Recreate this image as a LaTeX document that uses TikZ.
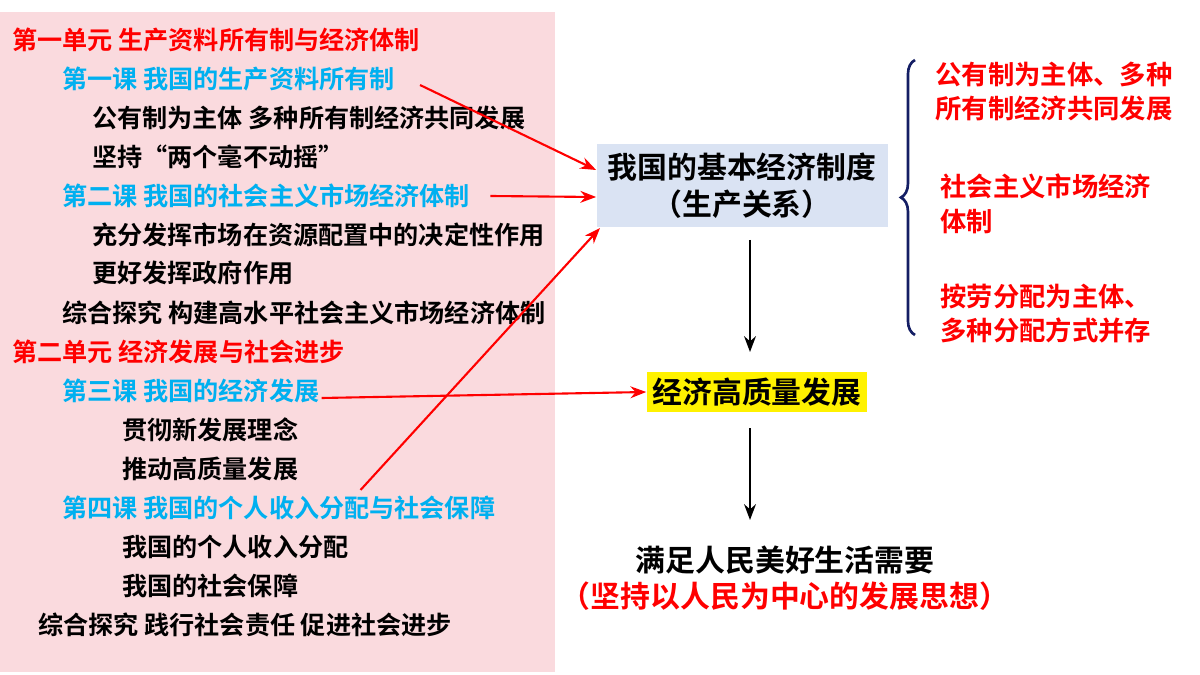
\documentclass[tikz,border=0pt]{standalone}
\usepackage{fontspec}
\setmainfont{Noto Sans CJK SC Bold}
\usetikzlibrary{arrows.meta,decorations.pathreplacing}
\definecolor{pinkbg}{RGB}{250,218,222}
\definecolor{boxblue}{RGB}{218,227,243}
\definecolor{lesson}{RGB}{0,176,240}
\definecolor{unitred}{RGB}{255,0,0}
\definecolor{navy}{RGB}{20,30,100}
\tikzset{
	item/.style={anchor=west, inner sep=0pt, font=\fontsize{14.3}{16}\selectfont},
	unit/.style={item, text=unitred},
	lesson/.style={item, text=lesson},
	side/.style={anchor=west, inner sep=0pt, text=unitred, font=\fontsize{15}{17}\selectfont},
	redarrow/.style={draw=red, line width=1.2pt, -{Stealth[length=9pt]}},
	blackarrow/.style={draw=black, line width=1.2pt, -{Stealth[length=9pt]}}
}
\begin{document}
\begin{tikzpicture}[x=0.02cm, y=-0.02cm]
	\useasboundingbox (0,0) rectangle (1200,675);
	\fill[pinkbg] (0,12) rectangle (555,672);
	% left column
	\node[unit] (u1) at (12,40) {第一单元 生产资料所有制与经济体制};
	\node[lesson] (l1) at (62,79) {第一课 我国的生产资料所有制};
	\node[item] (a1) at (92,118) {公有制为主体 多种所有制经济共同发展};
	\node[item] (a2) at (92,157) {坚持“两个毫不动摇”};
	\node[lesson] (l2) at (62,196) {第二课 我国的社会主义市场经济体制};
	\node[item] (b1) at (92,235) {充分发挥市场在资源配置中的决定性作用};
	\node[item] (b2) at (92,273) {更好发挥政府作用};
	\node[item] (t1) at (62,313) {综合探究 构建高水平社会主义市场经济体制};
	\node[unit] (u2) at (12,352) {第二单元 经济发展与社会进步};
	\node[lesson] (l3) at (62,391) {第三课 我国的经济发展};
	\node[item] (c1) at (122,430) {贯彻新发展理念};
	\node[item] (c2) at (122,469) {推动高质量发展};
	\node[lesson] (l4) at (62,508) {第四课 我国的个人收入分配与社会保障};
	\node[item] (d1) at (122,547) {我国的个人收入分配};
	\node[item] (d2) at (122,586) {我国的社会保障};
	\node[item] (t2) at (38,625) {综合探究 践行社会责任 促进社会进步};
	% right column
	\node[fill=boxblue, minimum width=291*0.02cm, minimum height=83*0.02cm, align=center,
		font=\fontsize{17}{21}\selectfont] (sys) at (742,186) {我国的基本经济制度\\（生产关系）};
	\node[fill=yellow, minimum width=211*0.02cm, minimum height=40*0.02cm,
		font=\fontsize{17}{19}\selectfont] (dev) at (757,392) {经济高质量发展};
	\node[font=\fontsize{17}{19}\selectfont] (need) at (785,560) {满足人民美好生活需要};
	\node[text=unitred, font=\fontsize{17}{19}\selectfont] (core) at (785,596) {（坚持以人民为中心的发展思想）};
	\draw[blackarrow] (750,240) coordinate (s1) -- (750,352) coordinate (e1);
	\draw[blackarrow] (750,428) coordinate (s2) -- (750,520) coordinate (e2);
	% brace and features
	\draw[navy, line width=1.5pt, decorate, decoration={brace, amplitude=8pt}] (915,335) -- (915,60);
	\node[side] (f1) at (935,74) {公有制为主体、多种};
	\node[side] (f1b) at (935,108) {所有制经济共同发展};
	\node[side] (f2) at (940,186) {社会主义市场经济};
	\node[side] (f2b) at (940,222) {体制};
	\node[side] (f3) at (940,296) {按劳分配为主体、};
	\node[side] (f3b) at (940,330) {多种分配方式并存};
	% red links
	\draw[redarrow] (l1.east) ++(25,6) -- (sys.west |- 0,170);
	\draw[redarrow] (l2.east) ++(20,0) -- (sys.west |- 0,197);
	\draw[redarrow] (l4.east) ++(-135,-18) -- (600,228);
	\draw[redarrow] (l3.east) ++(2,7) -- (dev.west);
\end{tikzpicture}
\end{document}
